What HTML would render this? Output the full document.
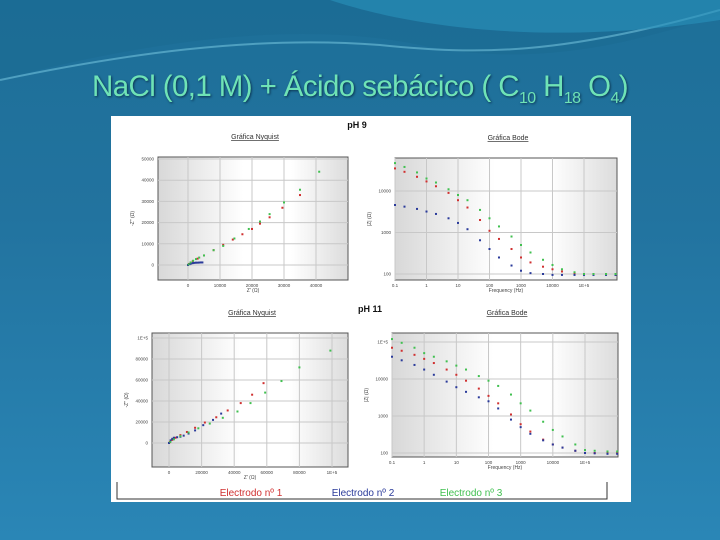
<!DOCTYPE html>
<html><head><meta charset="utf-8">
<style>
html,body{margin:0;padding:0;width:720px;height:540px;overflow:hidden}
body{background:linear-gradient(180deg,#1d6f98 0%,#22739f 40%,#2a86b6 100%);font-family:"Liberation Sans",sans-serif;position:relative}
#title{position:absolute;left:0;width:720px;top:70px;text-align:center;font-size:29.5px;color:#6fe3b6;text-shadow:1px 1px 2px #0b3550;font-family:"Liberation Sans",sans-serif;letter-spacing:-0.6px}
#title sub{font-size:16px}
svg{position:absolute;left:0;top:0}
</style></head><body>
<svg width="720" height="540">
<path d="M0,80 C150,40 300,20 420,45 C540,70 640,40 720,15 L720,0 L0,0 Z" fill="#1a6a92" opacity="0.6"/>
<path d="M0,80 C120,55 250,35 380,45 C480,55 560,55 720,10" stroke="#7fd0e8" stroke-width="2" fill="none" opacity="0.5"/>
<path d="M330,0 C420,30 560,45 720,20 L720,0 Z" fill="#2a93bd" opacity="0.6"/>
</svg>
<div id="title">NaCl (0,1 M) + Ácido sebácico ( C<sub>10</sub> H<sub>18</sub> O<sub>4</sub>)</div>
<svg id="charts" width="720" height="540">
<defs>
<linearGradient id="pg" x1="0" x2="1" y1="0" y2="0">
<stop offset="0" stop-color="#d8d8d8"/><stop offset="0.45" stop-color="#ffffff"/><stop offset="0.7" stop-color="#ffffff"/><stop offset="1" stop-color="#dcdcdc"/>
</linearGradient>
</defs>
<rect x="111" y="116" width="520" height="386" fill="#ffffff"/>
</svg>
<script>
// ---- data ----
const seriesColors=["#d03030","#2a3a9a","#40c050"];
const legendLabels=["Electrodo nº 1","Electrodo nº 2","Electrodo nº 3"];
// pH 9 Nyquist (Z', Z'')
const nyq9Re1=[300,1500,3000,5000,8000,11000,14000,17000,20000,22500,25500,29500,35000];
const nyq9Im1=[500,1800,3000,4500,7000,9500,12000,14500,17000,19500,22500,27000,33000];
const nyq9Re2=[0,500,1000,1500,2000,2500,3000,3500,4000,4500];
const nyq9Im2=[0,400,700,900,1000,1100,1100,1150,1200,1200];
const nyq9Re3=[200,800,1600,2500,3500,5000,8000,11000,14500,19000,22500,25500,30000,35000,41000];
const nyq9Im3=[300,1200,2000,2800,3500,4500,7000,9000,12500,17000,20500,24000,29500,35500,44000];
// Bode frequencies
const freqs=[0.1,0.2,0.5,1,2,5,10,20,50,100,200,500,1000,2000,5000,10000,20000,50000,100000,200000,500000,1000000];
// pH 9 Bode |Z|
const bode9S1=[35000,29000,22000,17000,13000,9000,6000,4000,2000,1100,700,400,250,190,150,130,115,105,100,100,100,100];
const bode9S2=[4600,4200,3700,3200,2800,2200,1700,1200,650,400,250,160,120,105,100,95,95,95,95,95,95,95];
const bode9S3=[47000,38000,28000,20000,16000,11000,8000,6000,3500,2200,1400,800,500,330,220,165,130,110,100,100,100,100];
// pH 11 Nyquist
const nyq11Re1=[500,2000,4000,7000,11000,16000,22000,29000,36000,44000,51000,58000];
const nyq11Im1=[800,3000,5000,7500,10500,14500,19500,24500,31000,38000,46000,57000];
const nyq11Re2=[0,1000,2000,3000,5000,7000,9000,12000,16000,21000,27000,32000];
const nyq11Im2=[0,2500,4000,5000,5500,6000,7000,9000,12000,17000,22000,28000];
const nyq11Re3=[800,3000,7000,12000,18000,25000,33000,42000,50000,59000,69000,80000,99000];
const nyq11Im3=[1000,3500,6500,10000,14000,18500,24000,30000,38000,48000,59000,72000,88000];
// pH 11 Bode
const bode11S1=[70000,58000,45000,35000,27000,18000,13000,9000,5500,3500,2200,1100,600,380,230,170,140,115,100,100,100,100];
const bode11S2=[40000,32000,24000,18000,13000,8500,6000,4500,3200,2500,1600,800,500,330,220,170,140,115,100,98,95,95];
const bode11S3=[120000,95000,70000,50000,40000,30000,23000,18000,12000,9000,6500,3800,2200,1400,700,420,280,170,120,115,110,110];
// tick labels
const nyq9XTicks=[0,10000,20000,30000,40000];
const nyq9YTicks=[0,10000,20000,30000,40000,50000];
const nyq11XTicks=[0,20000,40000,60000,80000,100000];
const nyq11YTicks=[0,20000,40000,60000,80000,100000];
const bodeXTicks=[0.1,1,10,100,1000,10000,100000];
const bodeXLabels=["0.1","1","10","100","1000","10000","1E+5"];
const bode9YTicks=[100,1000,10000];
const bode11YTicks=[100,1000,10000,100000];

const NS="http://www.w3.org/2000/svg";
const svg=document.getElementById('charts');
function mk(tag,attrs,parent){const e=document.createElementNS(NS,tag);for(const k in attrs)e.setAttribute(k,attrs[k]);(parent||svg).appendChild(e);return e;}
function txt(x,y,s,size,fill,anchor,weight){const t=mk('text',{x:x,y:y,'font-size':size,fill:fill||'#333','text-anchor':anchor||'middle','font-family':'Liberation Sans, sans-serif','font-weight':weight||'normal'});t.textContent=s;return t;}
function lin(d0,d1,r0,r1){return v=>r0+(v-d0)/(d1-d0)*(r1-r0);}
function lg(d0,d1,r0,r1){return v=>r0+(Math.log10(v)-Math.log10(d0))/(Math.log10(d1)-Math.log10(d0))*(r1-r0);}

function panel(name,box,xs,ys,xt,xl,yt,yl,series,title,xlabel,ylabel){
  const g=mk('g',{});
  
  
  const bg=mk('rect',{x:box.x,y:box.y,width:box.w,height:box.h,fill:'url(#pg)',stroke:'#555','stroke-width':1},g);
  
  
  xt.forEach((v,i)=>{const x=xs(v);
    mk('line',{x1:x,x2:x,y1:box.y,y2:box.y+box.h,stroke:'#c8c8c8','stroke-width':1},g);
    const t=txt(x,box.y+box.h+7,xl[i],4.5,'#444','middle');g.appendChild(t);
    
    });
  yt.forEach((v,i)=>{const y=ys(v);
    mk('line',{x1:box.x,x2:box.x+box.w,y1:y,y2:y,stroke:'#c8c8c8','stroke-width':1},g);
    const t=txt(box.x-4,y+1.5,yl[i],4.5,'#444','end');g.appendChild(t);
    
    });
  series.forEach((s,si)=>{s.x.forEach((xv,i)=>{
    const p=mk('rect',{x:xs(xv)-1,y:ys(s.y[i])-1,width:2,height:2,fill:seriesColors[si]},g);
    
    });});
  const tt=txt(box.x+box.w/2+2,box.y-18,title,7,'#333','middle');g.appendChild(tt);
  tt.setAttribute('text-decoration','underline');
  
  
  const xa=txt(box.x+box.w/2,box.y+box.h+12,xlabel,5,'#444','middle');g.appendChild(xa);
  
  
  const ya=txt(0,0,ylabel,5,'#444','middle');g.appendChild(ya);
  ya.setAttribute('transform','translate('+(box.x-24)+','+(box.y+box.h/2)+') rotate(-90)');
  
  
}
const fmt=a=>a.map(String);
panel('nyquist-ph9',{x:158,y:157,w:190,h:123},lin(0,40000,188,316),lin(0,50000,265,159),
 nyq9XTicks,fmt(nyq9XTicks),nyq9YTicks,fmt(nyq9YTicks),
 [{x:nyq9Re1,y:nyq9Im1},{x:nyq9Re2,y:nyq9Im2},{x:nyq9Re3,y:nyq9Im3}],'Gráfica Nyquist',"Z' (Ω)","-Z'' (Ω)");
panel('bode-ph9',{x:395,y:158,w:222,h:122},lg(0.1,100000,395,584),lg(100,10000,274,191),
 bodeXTicks,bodeXLabels,bode9YTicks,fmt(bode9YTicks),
 [{x:freqs,y:bode9S1},{x:freqs,y:bode9S2},{x:freqs,y:bode9S3}],'Gráfica Bode','Frequency (Hz)','|Z| (Ω)');
panel('nyquist-ph11',{x:152,y:333,w:196,h:134},lin(0,100000,169,332),lin(0,100000,443,338),
 nyq11XTicks,["0","20000","40000","60000","80000","1E+5"],nyq11YTicks,["0","20000","40000","60000","80000","1E+5"],
 [{x:nyq11Re1,y:nyq11Im1},{x:nyq11Re2,y:nyq11Im2},{x:nyq11Re3,y:nyq11Im3}],'Gráfica Nyquist',"Z' (Ω)","-Z'' (Ω)");
panel('bode-ph11',{x:392,y:333,w:226,h:124},lg(0.1,100000,392,585),lg(100,100000,453,342),
 bodeXTicks,bodeXLabels,bode11YTicks,["100","1000","10000","1E+5"],
 [{x:freqs,y:bode11S1},{x:freqs,y:bode11S2},{x:freqs,y:bode11S3}],'Gráfica Bode','Frequency (Hz)','|Z| (Ω)');

const h1=txt(357,128,'pH 9',9,'#111','middle','bold');


const h2=txt(370,312,'pH 11',9,'#111','middle','bold');


const lb=mk('path',{d:'M117,482 V499 H607 V482',fill:'none',stroke:'#333','stroke-width':1});


const lx=[251,363,471];
legendLabels.forEach((s,i)=>{const t=txt(lx[i],496,s,10,seriesColors[i],'middle');
  
  });
</script>
</body></html>
